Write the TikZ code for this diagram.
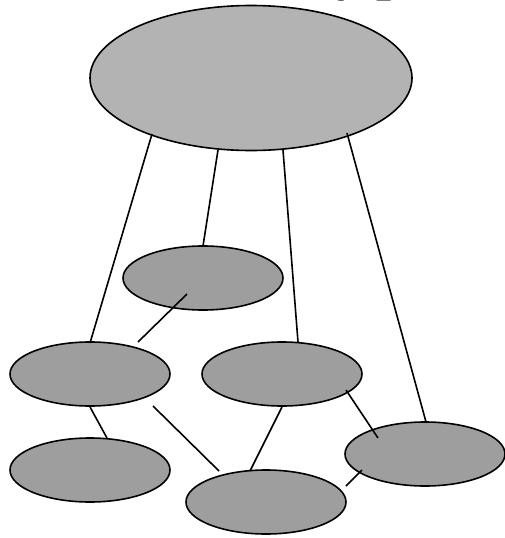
\documentclass[tikz,border=0pt]{standalone}
\usepackage{fontspec}
\setmainfont{Liberation Serif}
\usetikzlibrary{shapes.geometric}
\begin{document}
\begin{tikzpicture}[x=1pt,y=-1pt,
  topell/.style={ellipse,draw=black,line width=1.6pt,fill=topgray,minimum width=322pt,minimum height=145pt,inner sep=0pt},
  subell/.style={ellipse,draw=black,line width=1.6pt,fill=subgray,minimum width=160pt,minimum height=64pt,inner sep=0pt},
  link/.style={draw=black,line width=1.6pt}]
\definecolor{topgray}{HTML}{B3B3B3}
\definecolor{subgray}{HTML}{9E9E9E}
\useasboundingbox (0,0) rectangle (505,538);
\begin{scope}
\clip (0,0) rectangle (505,538);
\node[anchor=base west,inner sep=0pt,font=\fontsize{54}{54}\selectfont\bfseries] (title) at (336,-10.5) {y p};
\end{scope}
\node[topell] (top) at (251,78) {};
\node[subell] (mid) at (203,278) {};
\node[subell] (L) at (90,374) {};
\node[subell] (R) at (282,374) {};
\node[subell] (BL) at (90,470) {};
\node[subell] (BC) at (266,502) {};
\node[subell] (RR) at (425,454) {};
% connector end points
\coordinate (t1) at (152,134);
\coordinate (l1) at (90,343);
\coordinate (t2) at (218,150);
\coordinate (m1) at (203,246);
\coordinate (t3) at (283,150);
\coordinate (r1) at (298,342);
\coordinate (t4) at (347,133);
\coordinate (rr1) at (426,422);
\coordinate (m2) at (187,294);
\coordinate (l2) at (138,342);
\coordinate (l3) at (90,407);
\coordinate (bl1) at (107,438);
\coordinate (l4) at (153,406);
\coordinate (bc1) at (219,471);
\coordinate (r2) at (282,407);
\coordinate (bc2) at (250,471);
\coordinate (r3) at (346,390);
\coordinate (rr2) at (378,438);
\coordinate (bc3) at (346,486);
\coordinate (rr3) at (362,470);
\draw[link] (t1) -- (l1);
\draw[link] (t2) -- (m1);
\draw[link] (t3) -- (r1);
\draw[link] (t4) -- (rr1);
\draw[link] (m2) -- (l2);
\draw[link] (l3) -- (bl1);
\draw[link] (l4) -- (bc1);
\draw[link] (r2) -- (bc2);
\draw[link] (r3) -- (rr2);
\draw[link] (bc3) -- (rr3);
\end{tikzpicture}
\end{document}
